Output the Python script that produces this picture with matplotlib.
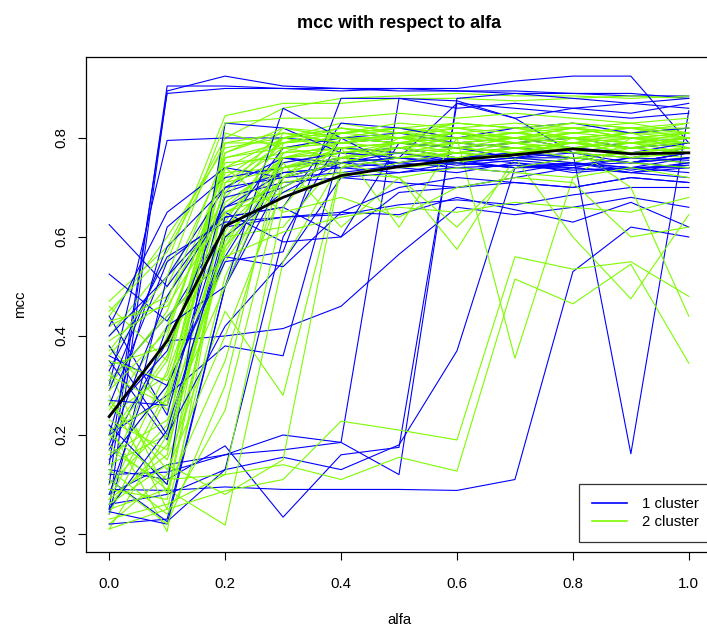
import matplotlib
matplotlib.use("Agg")
import matplotlib.pyplot as plt

plt.rcParams["font.family"] = ["Liberation Sans", "DejaVu Sans"]

alfa = [0.0, 0.1, 0.2, 0.3, 0.4, 0.5, 0.6, 0.7, 0.8, 0.9, 1.0]

# mcc per run, 1 cluster (blue)
b01 = [0.10, 0.905, 0.905, 0.90, 0.90, 0.895, 0.895, 0.89, 0.89, 0.885, 0.885]
b02 = [0.05, 0.895, 0.925, 0.905, 0.90, 0.90, 0.895, 0.895, 0.89, 0.89, 0.88]
b03 = [0.14, 0.89, 0.90, 0.90, 0.895, 0.90, 0.90, 0.915, 0.925, 0.925, 0.79]
b04 = [0.30, 0.795, 0.80, 0.80, 0.79, 0.80, 0.79, 0.80, 0.78, 0.79, 0.80]
b05 = [0.625, 0.50, 0.66, 0.70, 0.76, 0.75, 0.77, 0.76, 0.76, 0.75, 0.77]
b06 = [0.525, 0.43, 0.62, 0.64, 0.645, 0.665, 0.675, 0.665, 0.685, 0.70, 0.70]
b07 = [0.09, 0.088, 0.095, 0.09, 0.09, 0.09, 0.088, 0.11, 0.53, 0.62, 0.60]
b08 = [0.13, 0.11, 0.178, 0.034, 0.16, 0.175, 0.87, 0.86, 0.85, 0.84, 0.85]
b09 = [0.12, 0.125, 0.16, 0.20, 0.185, 0.12, 0.88, 0.89, 0.88, 0.87, 0.88]
b10 = [0.17, 0.39, 0.40, 0.415, 0.46, 0.565, 0.66, 0.645, 0.66, 0.68, 0.66]
b11 = [0.20, 0.28, 0.38, 0.36, 0.78, 0.77, 0.75, 0.74, 0.75, 0.73, 0.74]
b12 = [0.08, 0.14, 0.16, 0.17, 0.185, 0.88, 0.86, 0.87, 0.86, 0.87, 0.86]
b13 = [0.04, 0.52, 0.70, 0.76, 0.75, 0.76, 0.87, 0.84, 0.77, 0.162, 0.855]
b14 = [0.06, 0.08, 0.13, 0.155, 0.13, 0.18, 0.37, 0.74, 0.76, 0.75, 0.77]
b15 = [0.35, 0.19, 0.62, 0.78, 0.80, 0.81, 0.79, 0.78, 0.77, 0.76, 0.78]
b16 = [0.44, 0.24, 0.69, 0.73, 0.74, 0.75, 0.74, 0.73, 0.75, 0.74, 0.74]
b17 = [0.26, 0.55, 0.64, 0.66, 0.83, 0.82, 0.80, 0.82, 0.83, 0.81, 0.82]
b18 = [0.20, 0.62, 0.72, 0.74, 0.76, 0.75, 0.76, 0.75, 0.74, 0.76, 0.75]
b19 = [0.31, 0.44, 0.56, 0.75, 0.77, 0.78, 0.76, 0.77, 0.76, 0.75, 0.76]
b20 = [0.38, 0.20, 0.42, 0.55, 0.72, 0.73, 0.75, 0.74, 0.74, 0.73, 0.75]
b21 = [0.02, 0.03, 0.50, 0.76, 0.74, 0.76, 0.75, 0.76, 0.75, 0.74, 0.76]
b22 = [0.11, 0.025, 0.13, 0.60, 0.80, 0.79, 0.78, 0.79, 0.80, 0.78, 0.79]
b23 = [0.24, 0.37, 0.68, 0.71, 0.72, 0.71, 0.70, 0.71, 0.70, 0.72, 0.71]
b24 = [0.42, 0.65, 0.74, 0.72, 0.75, 0.77, 0.755, 0.74, 0.745, 0.75, 0.74]
b25 = [0.33, 0.56, 0.63, 0.64, 0.65, 0.645, 0.68, 0.655, 0.63, 0.67, 0.62]
b26 = [0.15, 0.30, 0.55, 0.57, 0.88, 0.88, 0.875, 0.84, 0.86, 0.85, 0.87]
b27 = [0.045, 0.02, 0.50, 0.72, 0.75, 0.74, 0.76, 0.77, 0.76, 0.75, 0.77]
b28 = [0.40, 0.52, 0.65, 0.59, 0.60, 0.69, 0.70, 0.72, 0.74, 0.73, 0.72]
b29 = [0.22, 0.10, 0.83, 0.82, 0.77, 0.76, 0.75, 0.76, 0.77, 0.75, 0.76]
b30 = [0.08, 0.42, 0.50, 0.86, 0.80, 0.74, 0.73, 0.75, 0.73, 0.74, 0.73]
b31 = [0.36, 0.30, 0.56, 0.54, 0.65, 0.70, 0.72, 0.71, 0.70, 0.72, 0.71]
b32 = [0.27, 0.26, 0.64, 0.66, 0.60, 0.79, 0.78, 0.76, 0.78, 0.77, 0.79]
b33 = [0.18, 0.48, 0.66, 0.73, 0.74, 0.73, 0.74, 0.745, 0.735, 0.74, 0.745]
b34 = [0.29, 0.58, 0.70, 0.72, 0.73, 0.745, 0.75, 0.74, 0.75, 0.735, 0.75]
b35 = [0.05, 0.21, 0.60, 0.69, 0.75, 0.76, 0.745, 0.755, 0.745, 0.76, 0.755]

# mcc per run, 2 cluster (green)
g01 = [0.47, 0.58, 0.80, 0.86, 0.88, 0.885, 0.89, 0.885, 0.885, 0.88, 0.885]
g02 = [0.40, 0.55, 0.845, 0.87, 0.87, 0.88, 0.88, 0.875, 0.88, 0.885, 0.88]
g03 = [0.44, 0.60, 0.78, 0.80, 0.82, 0.81, 0.83, 0.82, 0.82, 0.81, 0.82]
g04 = [0.36, 0.50, 0.76, 0.79, 0.80, 0.80, 0.81, 0.79, 0.80, 0.80, 0.79]
g05 = [0.30, 0.45, 0.74, 0.77, 0.78, 0.79, 0.80, 0.80, 0.79, 0.78, 0.80]
g06 = [0.25, 0.42, 0.72, 0.80, 0.81, 0.82, 0.81, 0.82, 0.80, 0.81, 0.81]
g07 = [0.20, 0.36, 0.70, 0.78, 0.80, 0.80, 0.79, 0.80, 0.81, 0.82, 0.80]
g08 = [0.15, 0.30, 0.67, 0.75, 0.77, 0.78, 0.79, 0.78, 0.77, 0.79, 0.78]
g09 = [0.10, 0.22, 0.64, 0.76, 0.79, 0.80, 0.78, 0.79, 0.80, 0.79, 0.79]
g10 = [0.06, 0.18, 0.60, 0.74, 0.78, 0.77, 0.79, 0.80, 0.79, 0.78, 0.79]
g11 = [0.02, 0.12, 0.58, 0.78, 0.79, 0.81, 0.80, 0.81, 0.80, 0.81, 0.82]
g12 = [0.38, 0.25, 0.55, 0.72, 0.81, 0.82, 0.80, 0.79, 0.81, 0.80, 0.80]
g13 = [0.33, 0.08, 0.62, 0.73, 0.76, 0.77, 0.78, 0.77, 0.76, 0.77, 0.76]
g14 = [0.28, 0.05, 0.52, 0.77, 0.78, 0.79, 0.77, 0.78, 0.78, 0.79, 0.77]
g15 = [0.22, 0.005, 0.63, 0.80, 0.83, 0.81, 0.82, 0.83, 0.82, 0.81, 0.83]
g16 = [0.17, 0.10, 0.69, 0.82, 0.80, 0.82, 0.81, 0.80, 0.82, 0.83, 0.81]
g17 = [0.12, 0.40, 0.75, 0.76, 0.77, 0.76, 0.77, 0.76, 0.75, 0.78, 0.77]
g18 = [0.08, 0.33, 0.77, 0.81, 0.79, 0.78, 0.80, 0.81, 0.82, 0.80, 0.81]
g19 = [0.04, 0.28, 0.79, 0.79, 0.80, 0.79, 0.78, 0.80, 0.78, 0.79, 0.80]
g20 = [0.01, 0.20, 0.81, 0.78, 0.76, 0.78, 0.77, 0.79, 0.77, 0.76, 0.78]
g21 = [0.46, 0.35, 0.73, 0.74, 0.75, 0.76, 0.75, 0.77, 0.76, 0.75, 0.74]
g22 = [0.42, 0.48, 0.68, 0.80, 0.82, 0.80, 0.83, 0.82, 0.81, 0.82, 0.81]
g23 = [0.34, 0.38, 0.60, 0.62, 0.76, 0.79, 0.78, 0.79, 0.77, 0.78, 0.79]
g24 = [0.26, 0.15, 0.45, 0.28, 0.74, 0.80, 0.80, 0.81, 0.80, 0.78, 0.80]
g25 = [0.18, 0.09, 0.018, 0.55, 0.75, 0.78, 0.79, 0.78, 0.79, 0.80, 0.79]
g26 = [0.01, 0.05, 0.087, 0.11, 0.228, 0.21, 0.19, 0.56, 0.535, 0.55, 0.48]
g27 = [0.03, 0.06, 0.12, 0.14, 0.11, 0.155, 0.127, 0.515, 0.465, 0.545, 0.345]
g28 = [0.14, 0.20, 0.57, 0.75, 0.62, 0.72, 0.575, 0.76, 0.80, 0.76, 0.75]
g29 = [0.24, 0.32, 0.66, 0.76, 0.78, 0.62, 0.80, 0.355, 0.72, 0.80, 0.78]
g30 = [0.07, 0.16, 0.65, 0.69, 0.72, 0.75, 0.77, 0.76, 0.60, 0.475, 0.645]
g31 = [0.21, 0.27, 0.71, 0.74, 0.76, 0.74, 0.75, 0.77, 0.78, 0.70, 0.44]
g32 = [0.31, 0.44, 0.56, 0.61, 0.64, 0.66, 0.65, 0.67, 0.66, 0.65, 0.68]
g33 = [0.05, 0.09, 0.35, 0.74, 0.77, 0.79, 0.78, 0.77, 0.79, 0.78, 0.77]
g34 = [0.11, 0.02, 0.30, 0.79, 0.82, 0.80, 0.81, 0.80, 0.81, 0.82, 0.80]
g35 = [0.27, 0.13, 0.40, 0.70, 0.76, 0.77, 0.76, 0.78, 0.77, 0.76, 0.77]
g36 = [0.37, 0.52, 0.83, 0.84, 0.84, 0.85, 0.84, 0.85, 0.84, 0.83, 0.84]
g37 = [0.43, 0.46, 0.65, 0.71, 0.73, 0.72, 0.74, 0.73, 0.72, 0.74, 0.72]
g38 = [0.16, 0.23, 0.50, 0.77, 0.81, 0.82, 0.83, 0.82, 0.83, 0.82, 0.83]
g39 = [0.09, 0.07, 0.61, 0.81, 0.79, 0.80, 0.82, 0.80, 0.79, 0.81, 0.80]
g40 = [0.13, 0.04, 0.25, 0.72, 0.78, 0.76, 0.77, 0.78, 0.76, 0.77, 0.78]
g41 = [0.20, 0.11, 0.12, 0.66, 0.80, 0.79, 0.81, 0.80, 0.80, 0.79, 0.80]
g42 = [0.06, 0.14, 0.08, 0.15, 0.74, 0.76, 0.78, 0.77, 0.79, 0.78, 0.77]
g43 = [0.29, 0.41, 0.74, 0.65, 0.68, 0.64, 0.70, 0.72, 0.71, 0.60, 0.62]
g44 = [0.35, 0.31, 0.58, 0.72, 0.75, 0.72, 0.62, 0.74, 0.76, 0.75, 0.74]
g45 = [0.45, 0.57, 0.79, 0.81, 0.80, 0.79, 0.80, 0.81, 0.80, 0.79, 0.81]
g46 = [0.32, 0.26, 0.71, 0.79, 0.81, 0.80, 0.79, 0.80, 0.82, 0.80, 0.79]
g47 = [0.19, 0.35, 0.76, 0.78, 0.79, 0.81, 0.80, 0.79, 0.78, 0.80, 0.81]
g48 = [0.07, 0.29, 0.74, 0.80, 0.78, 0.79, 0.81, 0.79, 0.80, 0.81, 0.78]
g49 = [0.39, 0.47, 0.77, 0.82, 0.81, 0.83, 0.82, 0.81, 0.83, 0.82, 0.82]
g50 = [0.23, 0.17, 0.59, 0.76, 0.77, 0.78, 0.76, 0.78, 0.79, 0.77, 0.78]

# mean curve (black)
mean_mcc = [0.237, 0.39, 0.622, 0.68, 0.724, 0.742, 0.756, 0.766, 0.778, 0.768, 0.77]

blue_runs = [b01, b02, b03, b04, b05, b06, b07, b08, b09, b10, b11, b12, b13, b14, b15, b16,
             b17, b18, b19, b20, b21, b22, b23, b24, b25, b26, b27, b28, b29, b30, b31, b32,
             b33, b34, b35]
green_runs = [g01, g02, g03, g04, g05, g06, g07, g08, g09, g10, g11, g12, g13, g14, g15, g16,
              g17, g18, g19, g20, g21, g22, g23, g24, g25, g26, g27, g28, g29, g30, g31, g32,
              g33, g34, g35, g36, g37, g38, g39, g40, g41, g42, g43, g44, g45, g46, g47, g48,
              g49, g50]

BLUE = "#0000FF"
GREEN = "#7CFC00"

fig = plt.figure(figsize=(7.07, 6.30), dpi=100, facecolor="white")
ax = fig.add_axes([86 / 707, 78 / 630, 626 / 707, 495 / 630])

# interleave runs the way they were drawn
n = max(len(blue_runs), len(green_runs))
for i in range(n):
    if i < len(blue_runs):
        ax.plot(alfa, blue_runs[i], color=BLUE, lw=0.8)
    if i < len(green_runs):
        ax.plot(alfa, green_runs[i], color=GREEN, lw=0.8)
ax.plot(alfa, mean_mcc, color="black", lw=2.0)

ax.set_xlim(-0.04, 1.04)
ax.set_ylim(-0.0364, 0.9636)
ax.set_xticks([0.0, 0.2, 0.4, 0.6, 0.8, 1.0])
ax.set_xticklabels(["0.0", "0.2", "0.4", "0.6", "0.8", "1.0"])
ax.set_yticks([0.0, 0.2, 0.4, 0.6, 0.8])
ax.set_yticklabels(["0.0", "0.2", "0.4", "0.6", "0.8"], rotation=90, va="center")
ax.tick_params(direction="out", length=6, width=0.8, labelsize=10.8, colors="black")
ax.tick_params(axis="x", pad=12)
ax.tick_params(axis="y", pad=7)
for s in ax.spines.values():
    s.set_linewidth(0.9)
    s.set_color("black")

# legend lines drawn as proxies
h1, = ax.plot([], [], color=BLUE, lw=1.2)
h2, = ax.plot([], [], color=GREEN, lw=1.2)
leg = ax.legend([h1, h2], ["1 cluster", "2 cluster"], loc="lower right",
                bbox_to_anchor=(1.0, 0.02), fontsize=10.8, frameon=True,
                fancybox=False, borderpad=0.85, handlelength=2.3,
                handletextpad=1.05, labelspacing=0.3, borderaxespad=0.0)
leg.get_frame().set_edgecolor("black")
leg.get_frame().set_linewidth(0.9)

fig.text(399 / 707, 1 - 23 / 630, "mcc with respect to alfa", ha="center", va="center",
         fontsize=13, weight="bold")
fig.text(399 / 707, 1 - 620 / 630, "alfa", ha="center", va="center", fontsize=10.8)
fig.text(20 / 707, 1 - 304 / 630, "mcc", ha="center", va="center", rotation=90, fontsize=10.8)

fig.savefig("out.png", dpi=100, facecolor="white")
